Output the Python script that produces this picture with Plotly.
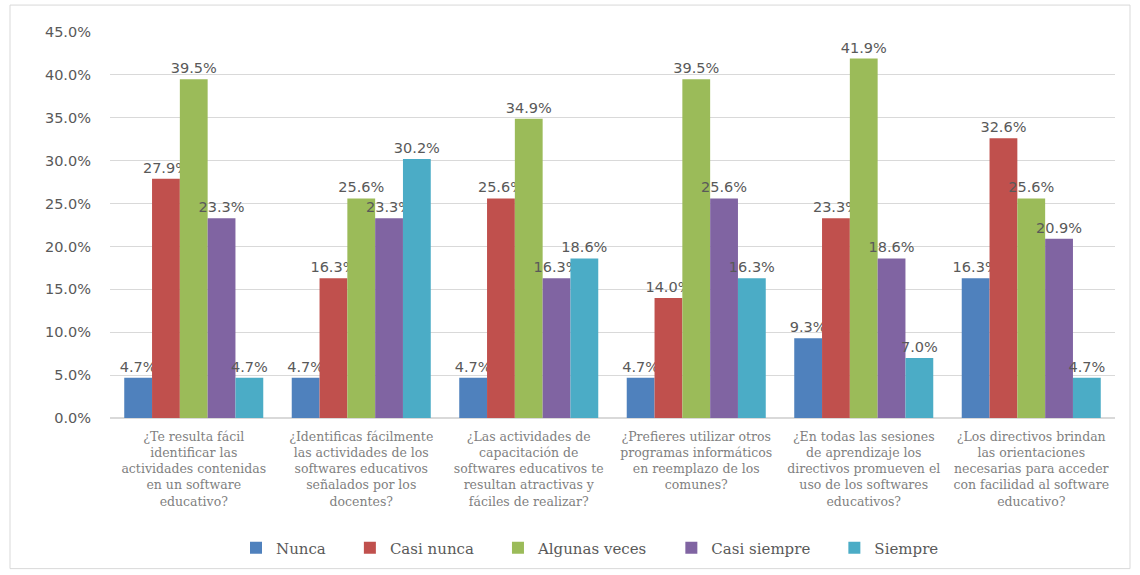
import plotly.graph_objects as go

categories = [
    "¿Te resulta fácil<br>identificar las<br>actividades contenidas<br>en un software<br>educativo?",
    "¿Identificas fácilmente<br>las actividades de los<br>softwares educativos<br>señalados por los<br>docentes?",
    "¿Las actividades de<br>capacitación de<br>softwares educativos te<br>resultan atractivas y<br>fáciles de realizar?",
    "¿Prefieres utilizar otros<br>programas informáticos<br>en reemplazo de los<br>comunes?",
    "¿En todas las sesiones<br>de aprendizaje los<br>directivos promueven el<br>uso de los softwares<br>educativos?",
    "¿Los directivos brindan<br>las orientaciones<br>necesarias para acceder<br>con facilidad al software<br>educativo?",
]

nunca = [4.7, 4.7, 4.7, 4.7, 9.3, 16.3]
casi_nunca = [27.9, 16.3, 25.6, 14.0, 23.3, 32.6]
algunas_veces = [39.5, 25.6, 34.9, 39.5, 41.9, 25.6]
casi_siempre = [23.3, 23.3, 16.3, 25.6, 18.6, 20.9]
siempre = [4.7, 30.2, 18.6, 16.3, 7.0, 4.7]

series = [
    ("Nunca", nunca, "#4F81BD"),
    ("Casi nunca", casi_nunca, "#C0504D"),
    ("Algunas veces", algunas_veces, "#9BBB59"),
    ("Casi siempre", casi_siempre, "#8064A2"),
    ("Siempre", siempre, "#4BACC6"),
]

# non-breaking spaces widen the gap between legend entries
PAD = "\u00a0" * 4

fig = go.Figure()
for name, vals, color in series:
    fig.add_trace(go.Bar(
        x=categories, y=vals, name=name + PAD,
        marker=dict(color=color, line=dict(width=0)),
        text=vals, texttemplate="%{y:.1f}%", textposition="outside",
        constraintext="none", cliponaxis=False,
        textfont=dict(family="DejaVu Sans", size=14.5, color="#595959"),
    ))

W, H = 1140, 575
L, R, T, B = 110, 25, 32, 156
pw, ph = W - L - R, H - T - B

def px(x):
    return (x - L) / pw

def py(y):
    return (H - B - y) / ph

fig.update_layout(
    width=W, height=H,
    margin=dict(l=L, r=R, t=T, b=B),
    paper_bgcolor="white", plot_bgcolor="white",
    barmode="group", bargap=0.17, bargroupgap=0,
    showlegend=True,
    legend=dict(orientation="h", x=px(236), xanchor="left", y=py(548), yanchor="middle",
                font=dict(family="DejaVu Serif", size=15, color="#595959"),
                itemwidth=30, traceorder="normal"),
    xaxis=dict(showline=False, ticks="", tickangle=0, ticklabelstandoff=9,
               tickfont=dict(family="DejaVu Serif", size=12.5, color="#7f7f7f")),
    yaxis=dict(range=[0, 45], dtick=5, ticksuffix="%", tickformat=".1f",
               showgrid=True, gridcolor="#d9d9d9", gridwidth=1,
               zeroline=True, zerolinecolor="#d9d9d9", showline=False,
               tickfont=dict(family="DejaVu Sans", size=14.5, color="#595959"),
               ticklabelstandoff=18),
    shapes=[dict(type="rect", xref="paper", yref="paper",
                 x0=px(10), x1=px(1130), y0=py(570), y1=py(5),
                 line=dict(color="#d9d9d9", width=1), fillcolor="rgba(0,0,0,0)", layer="below")],
)

fig.write_html("out.html")
